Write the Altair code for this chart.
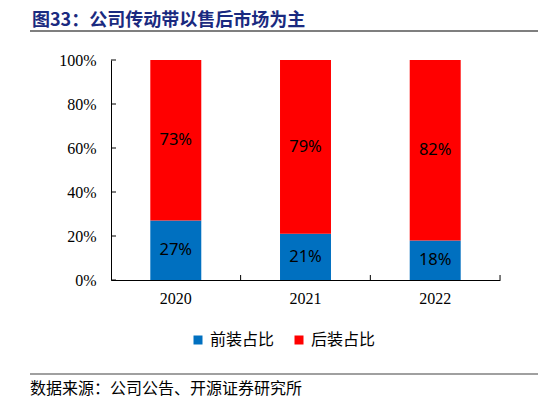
import altair as alt
import pandas as pd

years = ["2020", "2021", "2022"]
front = [27, 21, 18]      # 前装占比
after = [73, 79, 82]      # 后装占比
series = ["前装占比", "后装占比"]
colors = ["#0070C0", "#FF0000"]
y_ticks = [0, 20, 40, 60, 80, 100]

title_text = "图33：公司传动带以售后市场为主"
source_text = "数据来源：公司公告、开源证券研究所"

rows = []
for i, yr in enumerate(years):
    rows.append({"year": yr, "series": series[0], "value": front[i], "order": 0})
    rows.append({"year": yr, "series": series[1], "value": after[i], "order": 1})
df = pd.DataFrame(rows)
tick_df = pd.DataFrame({"t": y_ticks})
year_df = pd.DataFrame({"year": years})

W, H = 389, 220

xscale = alt.Scale(domain=years, paddingInner=0.607, paddingOuter=0.303)
yscale = alt.Scale(domain=[0, 100])

x_enc = alt.X("year:N", scale=xscale, sort=years, title=None,
              axis=alt.Axis(labelAngle=0, ticks=False, tickSize=0, labelPadding=10,
                            labelFont="Liberation Serif", labelFontSize=16,
                            labelColor="#000000", domainColor="#000000", domainWidth=1))
y_axis = alt.Axis(values=y_ticks, labelExpr="datum.value + '%'", ticks=False, tickSize=0,
                  labelPadding=15, labelFont="Liberation Serif", labelFontSize=16,
                  labelColor="#000000", domainColor="#000000", domainWidth=1, grid=False)

base = alt.Chart(df)

bars = base.mark_bar().encode(
    x=x_enc,
    y=alt.Y("value:Q", stack="zero", scale=yscale, axis=y_axis, title=None),
    color=alt.Color("series:N", scale=alt.Scale(domain=series, range=colors),
                    legend=alt.Legend(title=None, orient="none", legendX=79, legendY=272,
                                      direction="horizontal", symbolType="square",
                                      symbolSize=81, symbolStrokeWidth=0,
                                      labelFont="Noto Sans CJK SC", labelFontSize=16,
                                      labelColor="#000000", labelOffset=4,
                                      columnPadding=16, padding=0)),
    order=alt.Order("order:Q"),
)

labels = base.transform_stack(
    stack="value", groupby=["year"], as_=["v0", "v1"], sort=[alt.SortField("order")]
).transform_calculate(
    mid="(datum.v0 + datum.v1) / 2",
    lbl="datum.value + '%'"
).mark_text(font="Noto Sans", fontSize=16.5, color="#000000", baseline="middle").encode(
    x=alt.X("year:N", scale=xscale, sort=years),
    y=alt.Y("mid:Q", scale=yscale),
    text="lbl:N",
)

ytick_rules = alt.Chart(tick_df).mark_rule(color="#000000", strokeWidth=1).encode(
    y=alt.Y("t:Q", scale=yscale),
    x=alt.value(0), x2=alt.value(5),
)

xtick_rules = alt.Chart(year_df).mark_rule(color="#000000", strokeWidth=1, xOffset=W / 6).encode(
    x=alt.X("year:N", scale=xscale, sort=years),
    y=alt.value(H - 5), y2=alt.value(H),
)

title = alt.Chart(pd.DataFrame({"t": [title_text]})).mark_text(
    align="left", baseline="middle", font="Noto Sans CJK SC", fontSize=18,
    fontWeight="bold", color="#1a2a80"
).encode(x=alt.value(-79), y=alt.value(-39), text="t:N")

top_line = alt.Chart(pd.DataFrame({"a": [0]})).mark_rule(color="#555555", strokeWidth=1.5).encode(
    x=alt.value(-81), x2=alt.value(435), y=alt.value(-29)
)

bottom_line = alt.Chart(pd.DataFrame({"a": [0]})).mark_rule(color="#808080", strokeWidth=1.5).encode(
    x=alt.value(-81), x2=alt.value(435), y=alt.value(314)
)

source = alt.Chart(pd.DataFrame({"t": [source_text]})).mark_text(
    align="left", baseline="middle", font="Noto Sans CJK SC", fontSize=16, color="#000000"
).encode(x=alt.value(-81), y=alt.value(329), text="t:N")

chart = alt.layer(
    bars, labels, ytick_rules, xtick_rules, title, top_line, bottom_line, source
).properties(
    width=W, height=H,
    autosize=alt.AutoSizeParams(type="none"),
    padding={"left": 103, "top": 52, "right": 38, "bottom": 124},
).configure_view(stroke=None)

chart.save("out.html", embed_options={"renderer": "svg", "actions": False})
